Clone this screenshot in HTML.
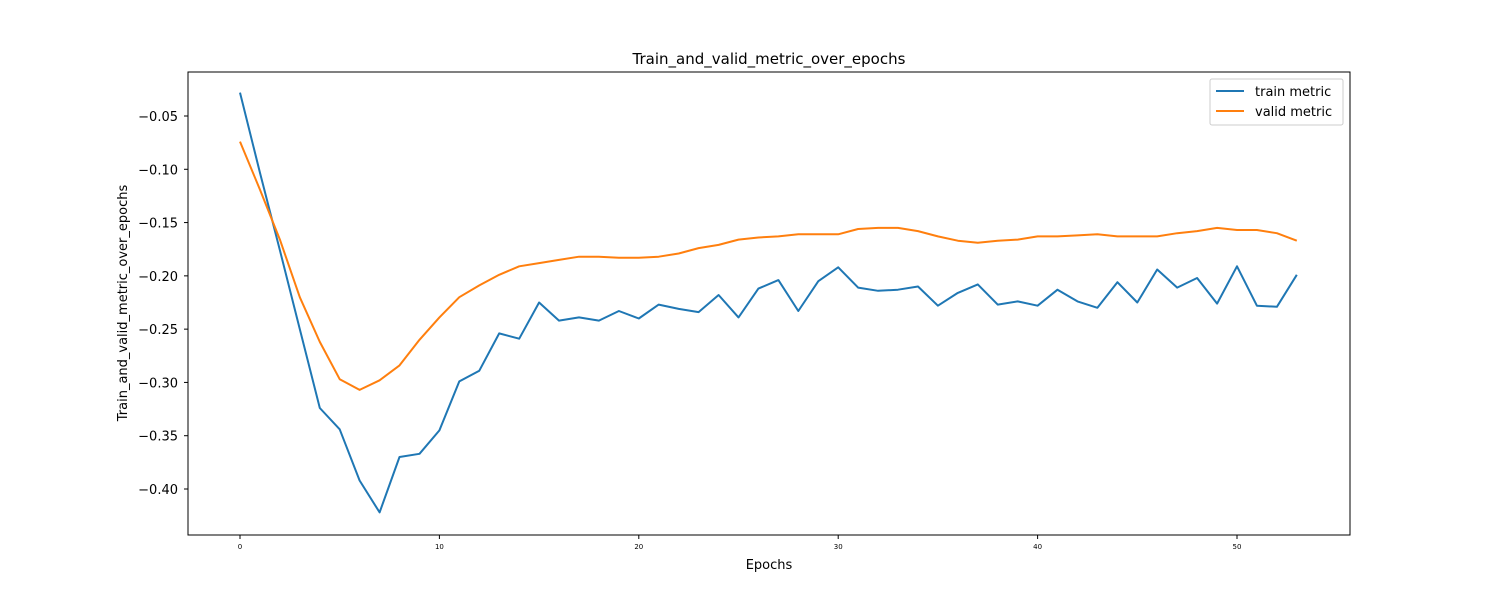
<!DOCTYPE html>
<html><head><meta charset="utf-8">
<style>
body{margin:0;background:#fff;font-family:"Liberation Sans","DejaVu Sans",sans-serif;}
svg text{font-family:"DejaVu Sans","Liberation Sans",sans-serif;}
</style></head>
<body>
<svg id="chart" width="1500" height="600" viewBox="0 0 1500 600" xmlns="http://www.w3.org/2000/svg">
<rect width="1500" height="600" fill="#fff"/>
<text x="769" y="64" font-size="15" text-anchor="middle">Train_and_valid_metric_over_epochs</text>
<text x="769" y="569" font-size="13" text-anchor="middle">Epochs</text>
<text transform="translate(127,303) rotate(-90)" font-size="13" text-anchor="middle">Train_and_valid_metric_over_epochs</text>
<g id="ticks"></g>
<g id="series"></g>
<rect x="188" y="72" width="1162" height="463" fill="none" stroke="#000" stroke-width="1"/>
<g>
<rect x="1210" y="79" width="133" height="46" fill="#fff" stroke="#ccc" rx="2"/>
<g><line x1="1216" y1="91" x2="1244" y2="91" stroke="#1f77b4" stroke-width="2"/><text x="1255" y="96" font-size="13">train metric</text></g>
<g><line x1="1216" y1="111" x2="1244" y2="111" stroke="#ff7f0e" stroke-width="2"/><text x="1255" y="116" font-size="13">valid metric</text></g>
</g>
</svg>
<script>
const trainValues=[-0.028,-0.103,-0.176,-0.250,-0.324,-0.344,-0.392,-0.422,-0.370,-0.367,-0.345,-0.299,-0.289,-0.254,-0.259,-0.225,-0.242,-0.239,-0.242,-0.233,-0.240,-0.227,-0.231,-0.234,-0.218,-0.239,-0.212,-0.204,-0.233,-0.205,-0.192,-0.211,-0.214,-0.213,-0.210,-0.228,-0.216,-0.208,-0.227,-0.224,-0.228,-0.213,-0.224,-0.230,-0.206,-0.225,-0.194,-0.211,-0.202,-0.226,-0.191,-0.228,-0.229,-0.199];
const validValues=[-0.074,-0.119,-0.166,-0.220,-0.262,-0.297,-0.307,-0.298,-0.284,-0.260,-0.239,-0.220,-0.209,-0.199,-0.191,-0.188,-0.185,-0.182,-0.182,-0.183,-0.183,-0.182,-0.179,-0.174,-0.171,-0.166,-0.164,-0.163,-0.161,-0.161,-0.161,-0.156,-0.155,-0.155,-0.158,-0.163,-0.167,-0.169,-0.167,-0.166,-0.163,-0.163,-0.162,-0.161,-0.163,-0.163,-0.163,-0.160,-0.158,-0.155,-0.157,-0.157,-0.160,-0.167];
const xTicks=[0,10,20,30,40,50];
const yTicks=[-0.05,-0.10,-0.15,-0.20,-0.25,-0.30,-0.35,-0.40];
const NS="http://www.w3.org/2000/svg";
function xs(e){return 240+e*19.94;}
function ys(v){return 116+(-0.05-v)*1065.7;}
const tg=document.getElementById('ticks');
xTicks.forEach(t=>{
  const l=document.createElementNS(NS,'line');
  l.setAttribute('x1',xs(t));l.setAttribute('x2',xs(t));l.setAttribute('y1',535);l.setAttribute('y2',539);l.setAttribute('stroke','#000');
  
  
  tg.appendChild(l);
  const tx=document.createElementNS(NS,'text');
  tx.setAttribute('x',xs(t));tx.setAttribute('y',549);tx.setAttribute('font-size','7');tx.setAttribute('text-anchor','middle');tx.textContent=t;
  
  
  tg.appendChild(tx);
});
yTicks.forEach(t=>{
  const l=document.createElementNS(NS,'line');
  l.setAttribute('x1',184);l.setAttribute('x2',188);l.setAttribute('y1',ys(t));l.setAttribute('y2',ys(t));l.setAttribute('stroke','#000');
  
  
  tg.appendChild(l);
  const tx=document.createElementNS(NS,'text');
  tx.setAttribute('x',178);tx.setAttribute('y',ys(t)+5);tx.setAttribute('font-size','13');tx.setAttribute('text-anchor','end');tx.textContent='\u2212'+Math.abs(t).toFixed(2);
  
  
  tg.appendChild(tx);
});
const sg=document.getElementById('series');
function addLine(vals,color,name){
  const p=document.createElementNS(NS,'polyline');
  p.setAttribute('points',vals.map((v,i)=>xs(i).toFixed(1)+','+ys(v).toFixed(1)).join(' '));
  p.setAttribute('fill','none');p.setAttribute('stroke',color);p.setAttribute('stroke-width','2');p.setAttribute('stroke-linejoin','round');
  
  
  sg.appendChild(p);
}
addLine(trainValues,'#1f77b4','train-metric-line');
addLine(validValues,'#ff7f0e','valid-metric-line');
</script>
</body></html>
